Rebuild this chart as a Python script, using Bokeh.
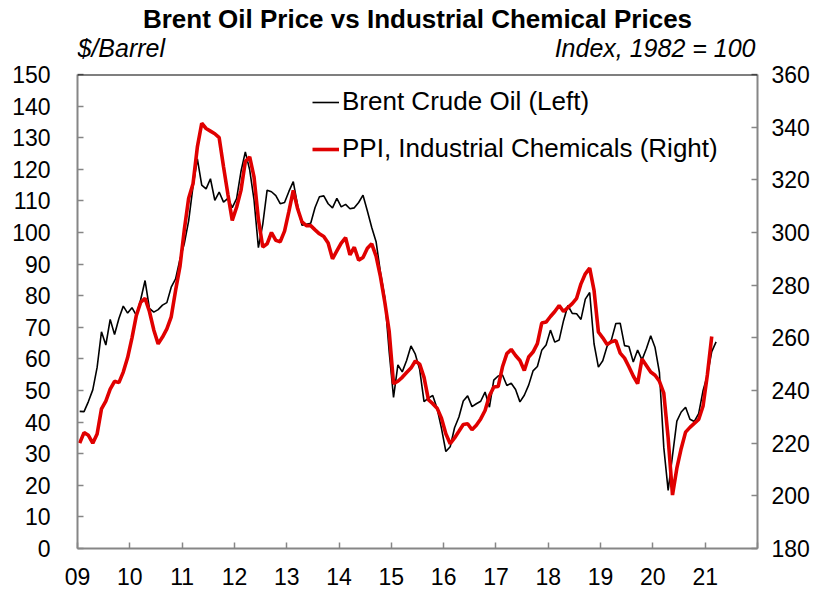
from bokeh.plotting import figure
from bokeh.layouts import column
from bokeh.models import Range1d, LinearAxis, FixedTicker, Legend, LegendItem, Label, Span
from bokeh.embed import file_html
from bokeh.resources import INLINE

# ---- data (monthly, Jan 2009 onward) ----
brent = [
    43.4, 43.3, 46.5, 50.2, 57.3, 68.6, 64.4, 72.5, 67.7, 72.8, 76.7, 74.5,   # 2009
    76.2, 73.8, 78.8, 84.8, 76.0, 74.8, 75.6, 77.0, 77.8, 82.7, 85.3, 91.5,   # 2010
    96.5, 103.7, 114.6, 123.3, 115.0, 113.8, 117.0, 110.2, 112.8, 109.6, 110.8, 107.9,  # 2011
    110.7, 119.3, 125.5, 119.8, 110.3, 95.2, 102.6, 113.4, 112.9, 111.7, 109.1, 109.5,  # 2012
    113.0, 116.1, 108.5, 102.3, 102.6, 102.9, 107.9, 111.3, 111.6, 109.1, 107.8, 110.8,  # 2013
    108.1, 108.9, 107.5, 107.8, 109.5, 111.8, 106.8, 101.6, 97.1, 87.4, 79.4, 62.3,  # 2014
    47.8, 58.1, 55.9, 59.5, 64.1, 61.5, 56.6, 46.5, 47.6, 48.4, 44.3, 38.0,   # 2015
    30.7, 32.2, 38.2, 41.6, 46.7, 48.3, 44.9, 45.8, 46.6, 49.5, 44.7, 53.3,   # 2016
    54.6, 54.9, 51.6, 52.3, 50.3, 46.4, 48.5, 51.7, 56.2, 57.6, 62.7, 64.4,   # 2017
    69.1, 65.3, 66.0, 72.1, 76.9, 74.4, 74.3, 72.5, 78.9, 81.0, 64.8, 57.4,   # 2018
    59.4, 64.0, 66.1, 71.2, 71.3, 64.2, 63.9, 59.0, 62.8, 59.7, 63.2, 67.3,   # 2019
    63.6, 55.7, 32.0, 18.4, 29.4, 40.3, 43.2, 44.7, 40.9, 40.2, 42.7, 49.9,   # 2020
    54.8, 62.3, 65.4,                                                          # 2021
]

ppi = [
    220.0, 224.0, 223.0, 220.0, 223.5, 233.0, 236.0, 240.5, 243.5, 243.0, 247.0, 252.5,  # 2009
    260.0, 268.5, 273.5, 275.0, 270.0, 263.0, 257.7, 260.3, 263.4, 268.0, 278.0, 287.0,  # 2010
    301.0, 313.0, 318.5, 332.5, 341.5, 339.5, 338.5, 337.5, 336.0, 325.0, 314.5, 304.6,  # 2011
    309.6, 316.0, 327.0, 328.7, 321.0, 305.0, 294.5, 295.7, 300.0, 297.0, 296.5, 300.5,  # 2012
    308.0, 316.0, 309.0, 304.0, 302.6, 302.6, 301.0, 299.5, 298.5, 296.0, 290.0, 293.0,  # 2013
    296.0, 298.0, 291.5, 294.4, 289.5, 290.5, 294.0, 295.7, 291.0, 283.2, 273.5, 262.5,  # 2014
    242.6, 243.5, 245.0, 246.8, 248.5, 251.2, 250.0, 245.0, 236.5, 235.0, 233.3, 229.5,  # 2015
    223.6, 219.8, 222.0, 224.5, 227.1, 227.4, 225.1, 226.8, 229.2, 232.4, 238.0, 241.3,  # 2016
    241.5, 249.0, 254.0, 255.6, 253.3, 251.4, 247.6, 252.7, 254.6, 257.8, 265.6, 266.0,  # 2017
    268.1, 270.0, 272.3, 270.0, 271.5, 273.0, 275.0, 280.5, 284.3, 286.5, 278.0, 262.2,  # 2018
    260.0, 257.5, 258.5, 259.0, 254.2, 252.3, 249.0, 245.5, 242.6, 252.0, 249.5, 247.0,  # 2019
    245.8, 243.5, 239.0, 222.0, 200.3, 210.5, 218.0, 224.2, 226.0, 227.5, 229.0, 234.0,  # 2020
    246.0, 260.5,                                                                        # 2021
]

start_year = 2009
year_ticks = list(range(2009, 2023))
year_labels = {y: ("%02d" % (y % 100) if y < 2022 else "") for y in year_ticks}
left_ticks = list(range(0, 151, 10))
right_ticks = list(range(180, 361, 20))

title_text = "Brent Oil Price vs Industrial Chemical Prices"
left_unit = "$/Barrel"
right_unit = "Index, 1982 = 100"
legend_labels = ["Brent Crude Oil (Left)", "PPI, Industrial Chemicals (Right)"]

x_brent = [start_year + (i + 0.5) / 12 for i in range(len(brent))]
x_ppi = [start_year + (i + 0.5) / 12 for i in range(len(ppi))]

FONT = "Liberation Sans"
GRAY = "#868686"
RED = "#E00000"
W = 830
HEAD_H = 61
FL, FR = 77, 757          # frame left / right in page pixels
FW = FR - FL

# ---------- header (title + unit labels) ----------
head = figure(width=W, height=HEAD_H, output_backend="svg", toolbar_location=None,
              x_range=Range1d(0, 1), y_range=Range1d(0, 1),
              x_axis_location=None, y_axis_location=None,
              min_border_left=FL, min_border_right=W - FR, min_border_top=0, min_border_bottom=0)
head.grid.visible = False
head.outline_line_color = None
head.add_layout(Label(x=FW / 2, y=HEAD_H - 18, x_units="screen", y_units="screen",
                      text=title_text, text_align="center", text_baseline="middle",
                      text_font=FONT, text_font_size="26px", text_font_style="bold",
                      text_color="black"))
head.add_layout(Label(x=0, y=HEAD_H - 47.5, x_units="screen", y_units="screen",
                      text=left_unit, text_align="left", text_baseline="middle",
                      text_font=FONT, text_font_size="25px", text_font_style="italic",
                      text_color="black"))
head.add_layout(Label(x=FW - 2, y=HEAD_H - 47.5, x_units="screen", y_units="screen",
                      text=right_unit, text_align="right", text_baseline="middle",
                      text_font=FONT, text_font_size="25px", text_font_style="italic",
                      text_color="black"))

# ---------- main chart ----------
p = figure(width=W, height=594 - HEAD_H, output_backend="svg", toolbar_location=None,
           x_range=Range1d(2009, 2022), y_range=Range1d(0, 150),
           min_border_left=FL, min_border_right=W - FR,
           min_border_top=74 - HEAD_H, min_border_bottom=46)
p.extra_y_ranges = {"right": Range1d(180, 360)}
p.grid.visible = False
p.outline_line_color = None


def style_axis(ax, standoff):
    ax.axis_line_color = GRAY
    ax.axis_line_width = 2
    ax.major_tick_in = 6
    ax.major_tick_out = 0
    ax.major_tick_line_color = GRAY
    ax.major_tick_line_width = 1.5
    ax.minor_tick_line_color = None
    ax.major_label_text_font = FONT
    ax.major_label_text_font_size = "23px"
    ax.major_label_text_color = "black"
    ax.major_label_standoff = standoff


xa = p.xaxis[0]
xa.ticker = FixedTicker(ticks=year_ticks)
xa.major_label_overrides = year_labels
style_axis(xa, 19)

ya = p.yaxis[0]
ya.ticker = FixedTicker(ticks=left_ticks)
style_axis(ya, 27)

ra = LinearAxis(y_range_name="right", ticker=FixedTicker(ticks=right_ticks))
style_axis(ra, 14)
p.add_layout(ra, "right")

# black top border of the plot area
p.add_layout(Span(location=150, dimension="width", line_color="black", line_width=2))

r_b = p.line(x_brent, brent, line_color="black", line_width=1.6)
r_p = p.line(x_ppi, ppi, line_color=RED, line_width=3.6, y_range_name="right")

legend = Legend(items=[LegendItem(label=legend_labels[0], renderers=[r_b]),
                       LegendItem(label=legend_labels[1], renderers=[r_p])],
                location=(235, 384), padding=0, margin=0, spacing=16,
                glyph_width=27, glyph_height=30, label_height=30, label_standoff=3,
                label_text_font=FONT, label_text_font_size="26px",
                label_text_color="black",
                border_line_color=None, background_fill_alpha=0)
p.add_layout(legend)

layout = column(head, p, spacing=0)
open("out.html", "w").write(file_html(layout, INLINE))
